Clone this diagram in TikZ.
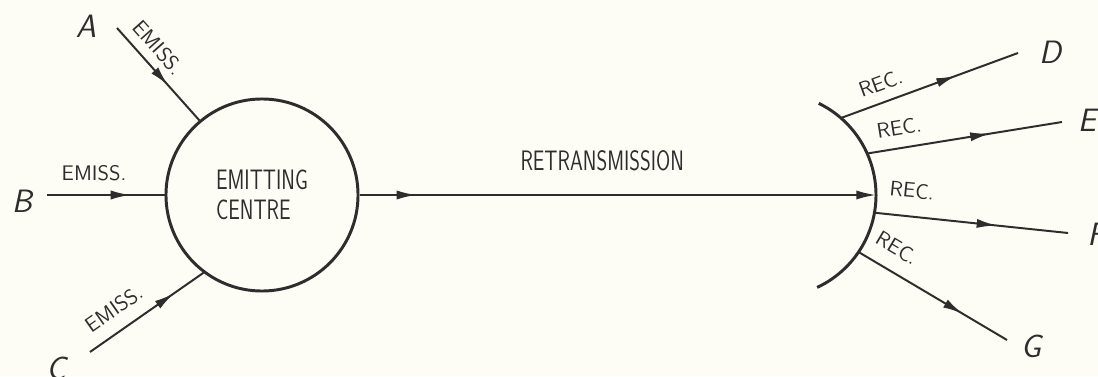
\documentclass[tikz,border=0pt]{standalone}
\usepackage{tikz}
\usetikzlibrary{arrows.meta,positioning,calc,decorations.markings}
\definecolor{inkcolor}{RGB}{45,45,45}
\definecolor{papercolor}{RGB}{253,252,245}
\newcommand{\narrowtext}[1]{\scalebox{0.73}[1]{#1}}

\begin{document}
\begin{tikzpicture}[
    x=0.025cm, y=0.025cm,
    conn/.style={draw=inkcolor, line width=1.4pt},
    flow/.style={conn, postaction={decorate}, decoration={markings, mark=at position #1 with {\arrow{Latex[length=14pt,width=6.5pt]}}}},
    lbl/.style={font=\sffamily\fontsize{15}{17}\selectfont, text=inkcolor},
    big/.style={font=\sffamily\fontsize{20}{21.3}\selectfont, text=inkcolor},
    tag/.style={font=\sffamily\itshape\fontsize{23}{24}\selectfont, text=inkcolor},
    centrebox/.style={circle, draw=inkcolor, line width=2.1pt, minimum size=4.8cm, inner sep=0pt},
    rim/.style={draw=inkcolor, line width=2.1pt}
]
    % Paper
    \fill[papercolor] (0,0) rectangle (1098,376);
    \useasboundingbox (0,0) rectangle (1098,376);

    % Emitting centre
    \node[centrebox, big, align=left] (centre) at (262,181) {\narrowtext{EMITTING}\\\narrowtext{CENTRE}};

    % Emitters
    \node[tag] (A) at (86,350) {A};
    \node[tag] (B) at (22,175) {B};
    \node[tag] (C) at (56,8) {C};
    \coordinate (a0) at (117,348);
    \coordinate (b0) at (47,181);
    \coordinate (c0) at (90,24);

    % Receiver
    \coordinate (rc) at (774,181);
    \draw[rim] ($(rc)+(64:102)$) arc[start angle=64, end angle=-65, radius=102];
    \coordinate (rx) at ($(rc)+(0:102)$);
    \coordinate (d0) at ($(rc)+(49:102)$);
    \coordinate (e0) at ($(rc)+(24:102)$);
    \coordinate (f0) at ($(rc)+(-10:102)$);
    \coordinate (g0) at ($(rc)+(-34:102)$);

    % Receiving stations
    \node[tag] (D) at (1050,324) {D};
    \node[tag] (E) at (1087,256) {E};
    \node[tag] (F) at (1096,142) {F};
    \node[tag] (G) at (1031,30) {G};
    \coordinate (d1) at (1018,323);
    \coordinate (e1) at (1062,254);
    \coordinate (f1) at (1068,143);
    \coordinate (g1) at (1007,36);

    % Arrows
    \draw[flow=0.62] (a0) -- node[lbl, sloped, above=3pt, pos=0.34] {EMISS.} (centre.130);
    \draw[flow=0.71] (b0) -- node[lbl, above=6pt, pos=0.4] {EMISS.} (centre.west);
    \draw[flow=0.74] (c0) -- node[lbl, sloped, above=6pt, pos=0.32] {EMISS.} (centre.233);
    \draw[flow=0.11, -{Latex[length=14pt,width=6.5pt]}] (centre.east) -- node[big, above=13pt, pos=0.47] {\narrowtext{RETRANSMISSION}} (rx);
    \draw[flow=0.65] (d0) -- node[lbl, sloped, above=4pt, pos=0.26] {REC.} (d1);
    \draw[flow=0.63] (e0) -- node[lbl, sloped, above=5pt, pos=0.18] {REC.} (e1);
    \draw[flow=0.63] (f0) -- node[lbl, sloped, above=9pt, pos=0.18] {REC.} (f1);
    \draw[flow=0.70] (g0) -- node[lbl, sloped, above=7pt, pos=0.18] {REC.} (g1);
\end{tikzpicture}
\end{document}
